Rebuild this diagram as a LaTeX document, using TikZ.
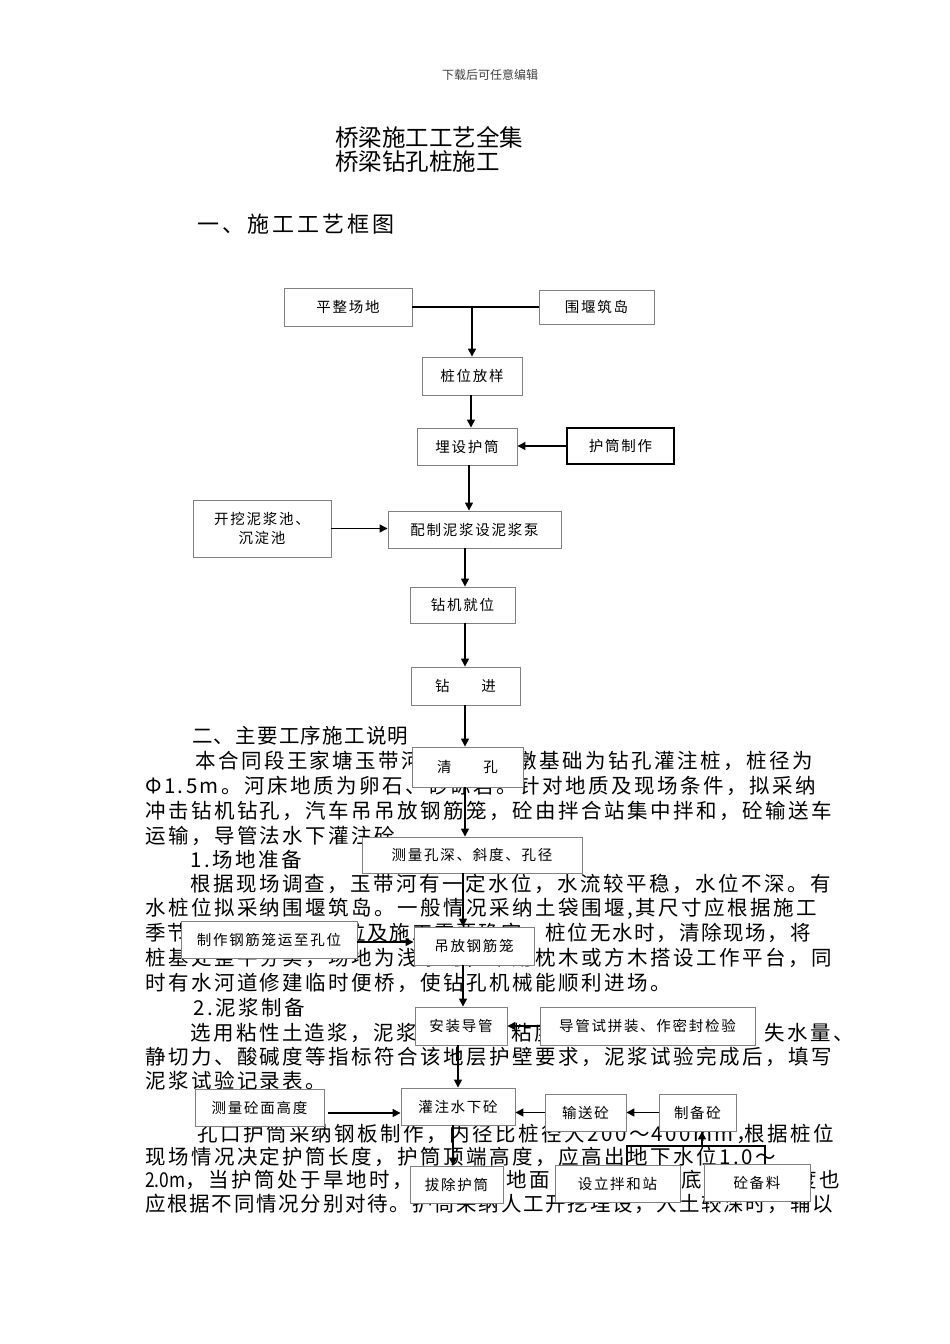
\documentclass[tikz,border=0pt]{standalone}
\usepackage{fontspec}
\usetikzlibrary{arrows.meta}
\newfontfamily\cjk{Noto Sans CJK SC}
\newfontfamily\cjkbody{Noto Sans CJK SC}[LetterSpace=12]
\newfontfamily\cjkbodyn{Noto Sans CJK SC}[LetterSpace=8.5]
\newfontfamily\cjkhead{Noto Sans CJK SC}[LetterSpace=6]
\newfontfamily\cjksec{Noto Sans CJK SC}[LetterSpace=14]
\newfontfamily\cjkbox{Noto Sans CJK SC}[LetterSpace=12]
\newfontfamily\cjkasc{Noto Sans CJK SC}[FakeStretch=0.85]
\newcommand\ascx[1]{{\cjkasc #1}}
\definecolor{boxgray}{HTML}{808080}
\definecolor{hdrgray}{HTML}{404040}
\tikzset{
  box/.style={draw=boxgray, line width=0.9pt, fill=white, inner sep=0pt,
    font=\cjkbox\fontsize{14.5}{19}\selectfont, text=black, align=center},
  thickbox/.style={box, draw=black, line width=1.5pt},
  body/.style={anchor=west, inner sep=0pt, font=\cjkbody\fontsize{20.5}{24}\selectfont, text=black},
  bodyn/.style={body, font=\cjkbodyn\fontsize{20.5}{24}\selectfont},
  arr/.style={-{Triangle[length=8pt,width=8pt]}, line width=1.4pt, black},
  ln/.style={line width=1.4pt, black}
}
\begin{document}
\begin{tikzpicture}[x=1pt,y=-1pt]
\fill[white] (0,0) rectangle (950,1344);
\useasboundingbox (0,0) rectangle (950,1344);

% header and titles
\node[inner sep=0pt, font=\cjk\fontsize{12}{14}\selectfont, text=hdrgray] (hdr) at (490,75) {下载后可任意编辑};
\node[anchor=west, inner sep=0pt, font=\cjk\fontsize{23.5}{26}\selectfont] (ti1) at (335,137) {桥梁施工工艺全集};
\node[anchor=west, inner sep=0pt, font=\cjk\fontsize{23.5}{26}\selectfont] (ti2) at (335,162) {桥梁钻孔桩施工};
\node[anchor=west, inner sep=0pt, font=\cjksec\fontsize{22}{26}\selectfont] (sec1) at (197,224) {一、施工工艺框图};

% body text
\node[anchor=west, inner sep=0pt, font=\cjkhead\fontsize{20.5}{24}\selectfont] (h2) at (192,736) {二、主要工序施工说明};
\node[body] (t1) at (195,761) {本合同段王家塘玉带河大桥主桥墩基础为钻孔灌注桩，桩径为};
\node[body] (t2) at (145,786) {Φ1.5m。河床地质为卵石、砂砾岩。针对地质及现场条件，拟采纳};
\node[body] (t3) at (145,811) {冲击钻机钻孔，汽车吊吊放钢筋笼，砼由拌合站集中拌和，砼输送车};
\node[body] (t4) at (145,836) {运输，导管法水下灌注砼。};
\node[body] (t5) at (190,860) {1.场地准备};
\node[body] (t6) at (190,884) {根据现场调查，玉带河有一定水位，水流较平稳，水位不深。有};
\node[body] (t7) at (145,909) {水桩位拟采纳围堰筑岛。一般情况采纳土袋围堰,其尺寸应根据施工};
\node[bodyn] (t8) at (145,933) {季节、河流流速、水位及施工需要确定。桩位无水时，清除现场，将};
\node[body] (t9) at (145,958) {桩基处整平夯实，场地为浅水时，采用枕木或方木搭设工作平台，同};
\node[body] (t10) at (145,983) {时有水河道修建临时便桥，使钻孔机械能顺利进场。};
\node[body] (t11) at (193,1008) {2.泥浆制备};
\node[body] (t12) at (190,1033) {选用粘性土造浆，泥浆的比重、粘度、含砂率、胶体率、失水量、};
\node[body] (t13) at (145,1057) {静切力、酸碱度等指标符合该地层护壁要求，泥浆试验完成后，填写};
\node[body] (t14) at (145,1081) {泥浆试验记录表。};
\node[body] (t15) at (197,1134) {孔口护筒采纳钢板制作，内径比桩径大200～400mm，\kern-12pt 根据桩位};
\node[body] (t16) at (145,1157) {现场情况决定护筒长度，护筒顶端高度，应高出地下水位1.0～};
\node[body] (t17) at (145,1180) {\ascx{2.0m}，当护筒处于旱地时，还应高出地面\kern5pt 0.3m，护筒底端埋置深度也};
\node[bodyn] (t18) at (145,1204) {应根据不同情况分别对待。护筒采纳人工开挖埋设，入土较深时，辅以};

% boxes
\node[box, minimum width=128pt, minimum height=38pt] (pz) at (348,307) {平整场地};
\node[box, minimum width=115pt, minimum height=34pt] (wy) at (596.5,307) {围堰筑岛};
\node[box, minimum width=100pt, minimum height=38pt] (zw) at (472,376) {桩位放样};
\node[box, minimum width=100pt, minimum height=37pt] (ms) at (467,446.5) {埋设护筒};
\node[thickbox, minimum width=107pt, minimum height=36pt] (hz) at (620.5,446) {护筒制作};
\node[box, minimum width=138pt, minimum height=57pt] (kw) at (262,528.5) {开挖泥浆池、\\沉淀池};
\node[box, minimum width=173pt, minimum height=37pt] (pn) at (474.5,529.5) {配制泥浆设泥浆泵};
\node[box, minimum width=105pt, minimum height=36pt] (zj) at (462.5,605) {钻机就位};
\node[box, minimum width=109pt, minimum height=38pt] (zjn) at (465.5,686) {钻\hspace{32pt}进};
\node[box, minimum width=111pt, minimum height=40pt] (qk) at (467.5,767) {清\hspace{32pt}孔};
\node[box, minimum width=220pt, minimum height=36pt] (cl) at (472,855) {测量孔深、斜度、孔径};
\node[box, minimum width=176pt, minimum height=37pt] (zz) at (269,940) {制作钢筋笼运至孔位};
\node[box, minimum width=120pt, minimum height=38pt] (dg) at (474,946) {吊放钢筋笼};
\node[box, minimum width=92pt, minimum height=38pt] (az) at (461,1026) {安装导管};
\node[box, minimum width=215pt, minimum height=38pt] (dgs) at (647.5,1026) {导管试拼装、作密封检验};
\node[box, minimum width=129pt, minimum height=37pt] (clm) at (259.5,1107.5) {测量砼面高度};
\node[box, minimum width=114pt, minimum height=37pt] (gz) at (458,1106.5) {灌注水下砼};
\node[box, minimum width=81pt, minimum height=37pt] (ss) at (585.5,1112.5) {输送砼};
\node[box, minimum width=77pt, minimum height=37pt] (zb) at (697.5,1112.5) {制备砼};
\node[box, minimum width=93pt, minimum height=37pt] (bc) at (456.5,1184.5) {拔除护筒};
\node[box, minimum width=125pt, minimum height=37pt] (sl) at (617.5,1183.5) {设立拌和站};
\node[box, minimum width=106pt, minimum height=37pt] (hb) at (757,1182.5) {砼备料};

% helper coordinates
\coordinate (j1) at (472,307);
\coordinate (v471) at (471,0);
\coordinate (v469) at (469,0);
\coordinate (v465) at (465,0);
\coordinate (v463) at (463,0);
\coordinate (v458) at (458,0);
\coordinate (v453) at (453,0);
\coordinate (h942) at (0,942);
\coordinate (h1113) at (0,1113);
\coordinate (b1) at (627,1146);
\coordinate (b2) at (765,1146);
\coordinate (b3) at (702,1146);

% connectors
\draw[ln] (pz.east) -- (wy.west);
\draw[arr] (j1) -- (j1 |- zw.north);
\draw[arr] (zw.south -| v471) -- (ms.north -| v471);
\draw[arr] (hz.west) -- (hz.west -| ms.east);
\draw[arr] (ms.south -| v469) -- (pn.north -| v469);
\draw[arr] (kw.east) -- (kw.east -| pn.west);
\draw[arr] (pn.south -| v465) -- (zj.north -| v465);
\draw[arr] (zj.south -| v465) -- (zjn.north -| v465);
\draw[arr] (zjn.south -| v465) -- (qk.north -| v465);
\draw[arr] (qk.south -| v465) -- (cl.north -| v465);
\draw[arr] (cl.south -| v463) -- (dg.north -| v463);
\draw[arr] (zz.east |- h942) -- (dg.west |- h942);
\draw[arr] (dg.south -| v463) -- (az.north -| v463);
\draw[arr] (dgs.west) -- (dgs.west -| az.east);
\draw[arr] (az.south -| v458) -- (gz.north -| v458);
\draw[arr] ([xshift=4pt]clm.east |- h1113) -- (gz.west |- h1113);
\draw[arr] (ss.west) -- (ss.west -| gz.east);
\draw[arr] (zb.west) -- (zb.west -| ss.east);
\draw[arr] (gz.south -| v453) -- (bc.north -| v453);
\draw[ln] (b1 |- sl.north) -- (b1) -- (b2) -- (b2 |- hb.north);
\draw[arr] (b3) -- (b3 |- zb.south);
\end{tikzpicture}
\end{document}
